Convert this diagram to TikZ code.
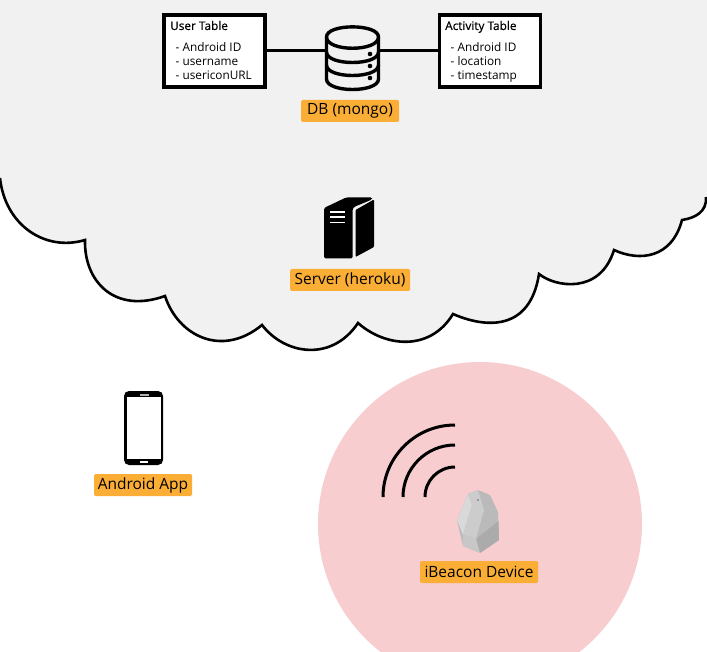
\documentclass[tikz,border=0pt]{standalone}
\usepackage{fontspec}
\setmainfont{Open Sans}
\newfontfamily\titlefont[FakeBold=0.6]{Open Sans}
\newcommand{\taglabel}[1]{\raisebox{-1pt}{#1}}
\definecolor{cloudgray}{HTML}{F1F1F1}
\definecolor{tagorange}{HTML}{FBAE35}
\definecolor{beaconpink}{HTML}{F7CDD0}
\tikzset{
  tag/.style={fill=tagorange,rounded corners=1.5pt,minimum height=22pt,inner xsep=0pt,inner ysep=0pt,font=\fontsize{15.5}{17}\selectfont,text=black},
  tablebox/.style={draw=black,fill=white,line width=3.2pt,minimum width=101pt,minimum height=72pt,inner sep=0pt},
  tabletext/.style={font=\fontsize{11.8}{14.4}\selectfont,align=left,anchor=north west,inner sep=0pt},
  link/.style={draw=black,line width=3pt},
  cloudline/.style={draw=black,line width=2.6pt},
  wave/.style={draw=black,line width=3pt},
  dbline/.style={draw=black,line width=3.4pt}
}
\begin{document}
\begin{tikzpicture}[x=1pt,y=-1pt]
\useasboundingbox (0,0) rectangle (707,652);
\begin{scope}
\clip (0,0) rectangle (707,652);
% cloud
\def\cloudedge{(0,178) .. controls (5,225) and (45,252) .. (85,240)
 .. controls (84,282) and (115,314) .. (165,296)
 .. controls (178,336) and (222,358) .. (262,325)
 .. controls (285,355) and (332,362) .. (358,323)
 .. controls (385,347) and (430,352) .. (453,314)
 .. controls (485,328) and (530,332) .. (539,274)
 .. controls (555,287) and (600,295) .. (614,250)
 .. controls (640,262) and (672,258) .. (682,220)
 .. controls (695,218) and (707,212) .. (706,197)}
\fill[cloudgray] \cloudedge -- (707,197) -- (707,0) -- (0,0) -- cycle;
\path[cloudline] \cloudedge;
% pink circle
\fill[beaconpink] (480,524) circle (162);
% DB icon
\path[dbline] (326.5,37) -- (326.5,79) .. controls (326.5,93) and (378.5,93) .. (378.5,79) -- (378.5,37) .. controls (378.5,23.5) and (326.5,23.5) .. (326.5,37) -- cycle;
\path[dbline] (326.5,37) .. controls (326.5,52) and (378.5,52) .. (378.5,37);
\path[dbline] (326.5,52) .. controls (326.5,66) and (378.5,66) .. (378.5,52);
\path[dbline] (326.5,65) .. controls (326.5,79) and (378.5,79) .. (378.5,65);
\fill (370,54) circle (2.3);
\fill (370,66) circle (2.3);
\fill (370,78) circle (2.3);
% server
\fill[rounded corners=1.5pt] (324,258.5) -- (324,208) -- (346,197.5) -- (372,197.5) -- (372,199.5) -- (354,207) -- (352.5,209) -- (352.5,258.5) -- cycle;
\fill[rounded corners=1pt] (355.5,257) -- (355.5,210) -- (374,199.5) -- (374,247) -- cycle;
\draw[white,line width=1.1pt] (330,212) -- (345,212) (330,217) -- (345,217) (330,222.5) -- (345,222.5);
% phone
\fill[rounded corners=5pt] (124,391) rectangle (163,465);
\fill[white] (127,397) rectangle (161,459);
\fill[white] (140,460.5) rectangle (148,463);
\fill[white!70!black] (140,393.5) rectangle (149,395.5);
% waves
\path[wave] (383,497) arc[start angle=180,end angle=270,radius=72];
\path[wave] (403,497) arc[start angle=180,end angle=270,radius=52];
\path[wave] (425,497) arc[start angle=180,end angle=270,radius=30];
% beacon
\fill[black!27,rounded corners=1pt] (468,494) -- (478,490) -- (490,495) -- (498,512) -- (499,540) -- (480,553) -- (463,546) -- (457,520) -- cycle;
\fill[black!15] (468,494) -- (457,520) -- (463,535) -- (472,505) -- cycle;
\fill[black!20] (463,535) -- (472,505) -- (468,494) -- (478,490) -- (484,510) -- (476,539) -- cycle;
\fill[black!33] (498.5,521) -- (499,540) -- (480,553) -- (476,539) -- cycle;
\fill[black!22] (463,546) -- (480,553) -- (476,539) -- (463,535) -- cycle;
\fill[black!60] (478,500) circle (0.9);
\end{scope}
% tables
\node[tablebox] (usertable) at (214.5,51) {};
\node[tablebox] (activitytable) at (490,51) {};
\node[minimum width=52pt,minimum height=62pt,inner sep=0pt] (dbicon) at (352.5,59) {};
\draw[link] (usertable.east) -- (dbicon.west |- usertable.east);
\draw[link] (activitytable.west) -- (dbicon.east |- activitytable.west);
\node[tabletext] (usertext) at (170,20.8) {{\titlefont User Table}\\[6.8pt]\hspace{5.5pt}- Android ID\\\hspace{5.5pt}- username\\\hspace{5.5pt}- usericonURL};
\node[tabletext] (activitytext) at (445,20.8) {{\titlefont Activity Table}\\[6.8pt]\hspace{5.5pt}- Android ID\\\hspace{5.5pt}- location\\\hspace{5.5pt}- timestamp};
% labels
\node[tag,minimum width=98pt] (dblabel) at (350,111) {\taglabel{DB (mongo)}};
\node[tag,minimum width=120pt] (serverlabel) at (350,280) {\taglabel{Server (heroku)}};
\node[tag,minimum width=98pt] (androidlabel) at (143,485) {\taglabel{Android App}};
\node[tag,minimum width=118pt] (beaconlabel) at (479,572) {\taglabel{iBeacon Device}};
\end{tikzpicture}
\end{document}
